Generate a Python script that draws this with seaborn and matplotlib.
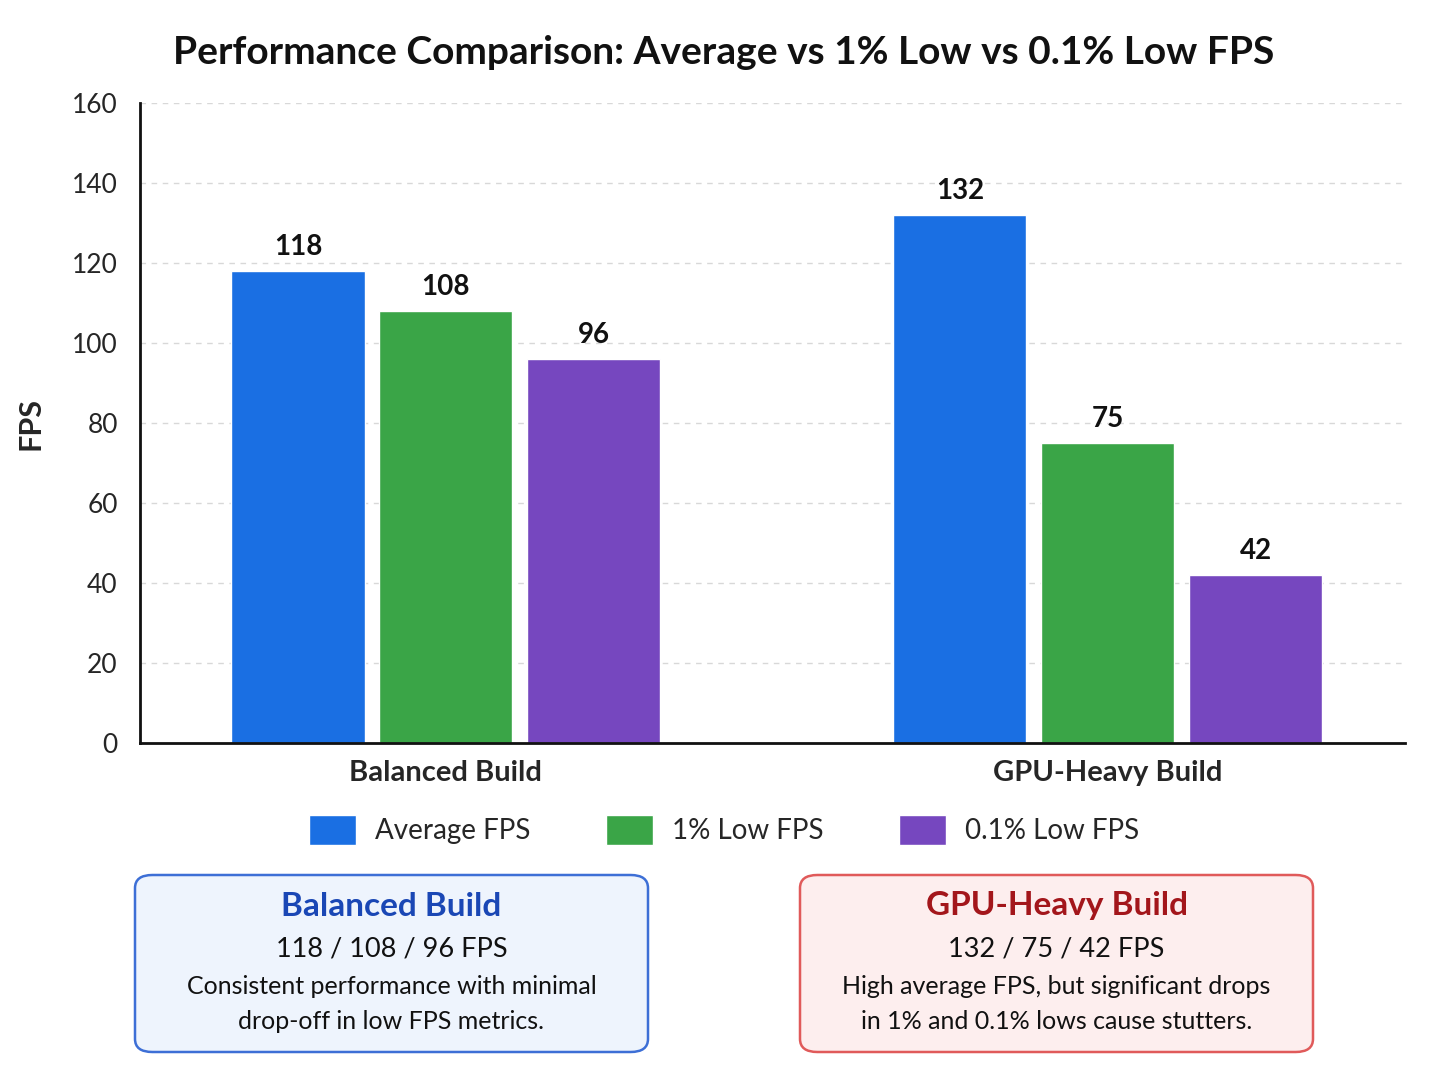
import matplotlib
matplotlib.use('Agg')
from matplotlib import pyplot as plt
from matplotlib.patches import FancyBboxPatch
import pandas as pd
import seaborn as sns

# Chart data
builds = ['Balanced Build', 'GPU-Heavy Build']
metrics = ['Average FPS', '1% Low FPS', '0.1% Low FPS']
avg_fps = [118, 132]
low1_fps = [108, 75]
low01_fps = [96, 42]
y_ticks = [0, 20, 40, 60, 80, 100, 120, 140, 160]

colors = ['#1A6FE3', '#3AA547', '#7647BF']

df = pd.DataFrame({
    'build': builds * 3,
    'metric': [m for m in metrics for _ in builds],
    'fps': avg_fps + low1_fps + low01_fps,
})

sns.set_theme(style='white')
plt.rcParams['font.family'] = ['Lato', 'DejaVu Sans']

W, H = 1448, 1086
fig = plt.figure(figsize=(W / 100, H / 100), dpi=100)
ax = fig.add_axes([140 / W, 1 - 743 / H, 1265 / W, 640 / H])

sns.barplot(data=df, x='build', y='fps', hue='metric', hue_order=metrics,
            palette=colors, width=0.67, gap=0.1, saturation=1, ax=ax,
            legend=False)

for cont in ax.containers:
    ax.bar_label(cont, padding=8, fontsize=20, fontweight='bold', color='#111111')

ax.set_xlim(-0.462, 1.449)
ax.set_ylim(0, 160)
ax.set_yticks(y_ticks)
ax.tick_params(axis='y', labelsize=19, length=0, pad=16)
ax.tick_params(axis='x', labelsize=21, length=0, pad=12)
for lbl in ax.get_xticklabels():
    lbl.set_fontweight('bold')
ax.set_xlabel('')
ax.set_ylabel('FPS', fontsize=22, fontweight='bold', labelpad=20)
ax.grid(axis='y', color='#d8d8d8', linestyle=(0, (4, 4)), linewidth=1)
ax.set_axisbelow(True)
for side in ['top', 'right']:
    ax.spines[side].set_visible(False)
for side in ['left', 'bottom']:
    ax.spines[side].set_color('#111111')
    ax.spines[side].set_linewidth(2)

fig.text(0.5, 1 - 52 / H, 'Performance Comparison: Average vs 1% Low vs 0.1% Low FPS',
         ha='center', va='center', fontsize=28, fontweight='bold', color='#111111')

# Legend
handles = [plt.Rectangle((0, 0), 1, 1, facecolor=c) for c in colors]
fig.legend(handles, metrics, loc='center', bbox_to_anchor=(0.5, 1 - 830 / H),
           ncol=3, frameon=False, fontsize=20, handlelength=1.7, handleheight=1.25,
           columnspacing=2.7, handletextpad=0.7)

# Info boxes
boxes = [
    (135, 'Balanced Build', '118 / 108 / 96 FPS',
     'Consistent performance with minimal\ndrop-off in low FPS metrics.',
     '#EEF4FD', '#3D6FD6', '#1A47B5'),
    (800, 'GPU-Heavy Build', '132 / 75 / 42 FPS',
     'High average FPS, but significant drops\nin 1% and 0.1% lows cause stutters.',
     '#FDEEEE', '#E05A5A', '#A3161B'),
]
for x0, title, nums, desc, face, edge, tcol in boxes:
    bw, bh, y0 = 513, 177, 875
    patch = FancyBboxPatch((x0 / W, 1 - (y0 + bh) / H), bw / W, bh / H,
                           boxstyle='round,pad=0,rounding_size=0.012',
                           transform=fig.transFigure, facecolor=face,
                           edgecolor=edge, linewidth=1.8)
    fig.patches.append(patch)
    cx = (x0 + bw / 2) / W
    fig.text(cx, 1 - 906 / H, title, ha='center', va='center', fontsize=24,
             fontweight='bold', color=tcol)
    fig.text(cx, 1 - 949 / H, nums, ha='center', va='center', fontsize=19.5,
             color='#111111')
    fig.text(cx, 1 - 1004 / H, desc, ha='center', va='center', fontsize=18,
             color='#111111', linespacing=1.65)

fig.savefig('out.png', dpi=100, facecolor='white')
